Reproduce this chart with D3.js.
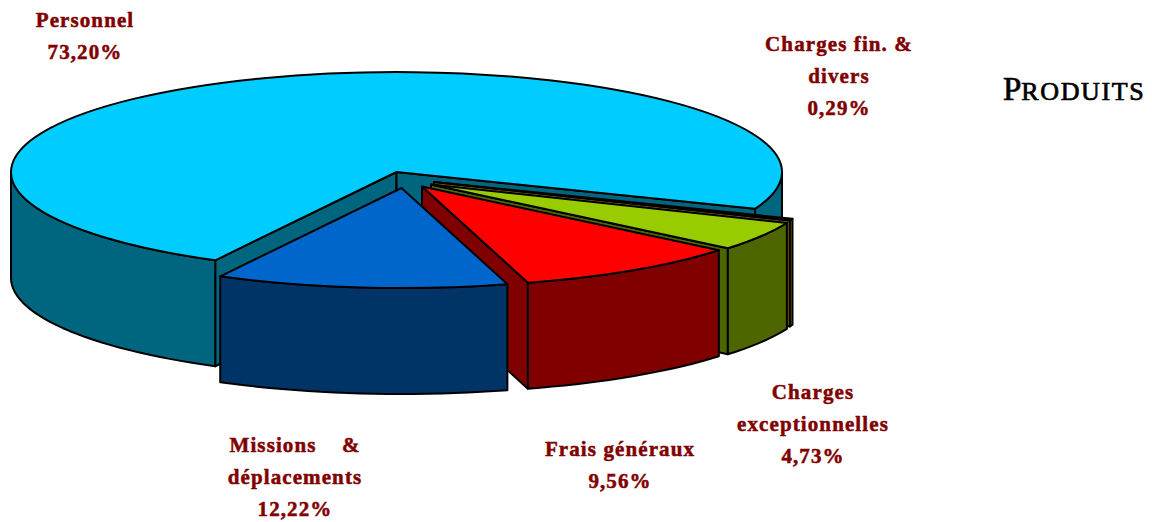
<!DOCTYPE html>
<html>
<head>
<meta charset="utf-8">
<script src="https://cdn.jsdelivr.net/npm/d3@7"></script>
<style>
  html, body { margin: 0; background: #fff; }
  text { font-family: "Liberation Serif", serif; }
</style>
</head>
<body>
<div id="container"></div>
<script>
/* DATA */
const categories = ["Personnel", "Charges fin. &\ndivers", "Charges\nexceptionnelles", "Frais généraux", "Missions    &\ndéplacements"];
const shares = [73.20, 0.29, 4.73, 9.56, 12.22];

/* CONSTANTS AND GLOBALS */
const width = 1152,
  height = 522,
  cx = 396.5,
  cy = 172,
  rx = 385.5,
  ry = 100,
  depth = 106,
  startDeg = 208.05;

const topColors = ["#00ccff", "#ffcc00", "#99cc00", "#ff0000", "#0066cc"];
const wallColors = ["#006680", "#806600", "#4d6600", "#800000", "#003366"];
const explode = [[0, 0], [37.5, 10], [34.5, 12.5], [25.5, 14.5], [5, 16]];
const labelPos = [[85, 27], [839, 51], [813, 399], [620, 456], [295, 452]];

const rad = Math.PI / 180;
const toPoint = a => [rx * Math.sin(a), -ry * Math.cos(a)];

const svg = d3.select("#container")
  .append("svg")
  .attr("width", width)
  .attr("height", height)
  .style("display", "block");

// PIE ANGLES
const pie = d3.pie()
  .sort(null)
  .startAngle(startDeg * rad)
  .endAngle((startDeg + 360) * rad);
const arcs = pie(shares);

const arcGen = d3.arc().innerRadius(0).outerRadius(1);
const lineGen = d3.line();

// parts of a slice's rim that face the viewer (d3 angles 90deg to 270deg, mod 360)
function frontRanges(a0, a1) {
  const out = [];
  for (let k = 0; k < 3; k++) {
    const lo = Math.max(a0, (90 + 360 * k) * rad);
    const hi = Math.min(a1, (270 + 360 * k) * rad);
    if (hi > lo) out.push([lo, hi]);
  }
  return out;
}

function rimWall(lo, hi) {
  const n = Math.max(2, Math.ceil((hi - lo) / (2 * rad)));
  const angles = d3.range(n + 1).map(i => lo + (hi - lo) * i / n);
  const upper = angles.map(toPoint);
  const lower = angles.slice().reverse().map(a => {
    const p = toPoint(a);
    return [p[0], p[1] + depth];
  });
  return lineGen(upper.concat(lower)) + "Z";
}

function radialWall(a) {
  const p = toPoint(a);
  return lineGen([[0, 0], p, [p[0], p[1] + depth], [0, depth]]) + "Z";
}

// DRAW SLICES
const slices = svg.selectAll(".slice")
  .data(arcs)
  .join("g")
  .attr("class", "slice")
  .attr("transform", (d, i) => `translate(${cx + explode[i][0]}, ${cy + explode[i][1]})`)
  .attr("stroke", "#000")
  .attr("stroke-width", 2)
  .attr("stroke-linejoin", "round");

slices.each(function (d, i) {
  const g = d3.select(this);
  // a cut face only shows when the top of the slice does not hide it
  if (toPoint(d.startAngle)[0] < 0) {
    g.append("path").attr("fill", wallColors[i]).attr("d", radialWall(d.startAngle));
  }
  if (toPoint(d.endAngle)[0] > 0) {
    g.append("path").attr("fill", wallColors[i]).attr("d", radialWall(d.endAngle));
  }
  frontRanges(d.startAngle, d.endAngle).forEach(([lo, hi]) => {
    g.append("path")
      .attr("fill", wallColors[i])
      .attr("d", rimWall(lo, hi));
  });
  g.append("path")
    .attr("fill", topColors[i])
    .attr("transform", `scale(${rx}, ${ry})`)
    .attr("vector-effect", "non-scaling-stroke")
    .attr("d", arcGen(d));
});

// LABELS
const pct = v => v.toFixed(2).replace(".", ",") + "%";

const labels = svg.selectAll(".label")
  .data(categories)
  .join("text")
  .attr("class", "label")
  .attr("text-anchor", "middle")
  .attr("fill", "#800000")
  .attr("stroke", "#800000")
  .attr("stroke-width", 0.5)
  .attr("font-weight", "bold")
  .attr("font-size", 21)
  .attr("letter-spacing", 1.1)
  .style("white-space", "pre");

labels.each(function (d, i) {
  const lines = d.split("\n").concat(pct(shares[i]));
  d3.select(this).selectAll("tspan")
    .data(lines)
    .join("tspan")
    .attr("x", labelPos[i][0])
    .attr("y", (l, j) => labelPos[i][1] + j * 32)
    .text(l => l);
});

// TITLE
const title = svg.append("text")
  .attr("x", 1003)
  .attr("y", 100)
  .attr("fill", "#000")
  .attr("font-size", 33)
  .attr("stroke", "#000")
  .attr("stroke-width", 0.7);
title.append("tspan").text("P");
title.append("tspan").attr("font-size", 26).attr("letter-spacing", 1.6).text("RODUITS");
</script>
</body>
</html>
